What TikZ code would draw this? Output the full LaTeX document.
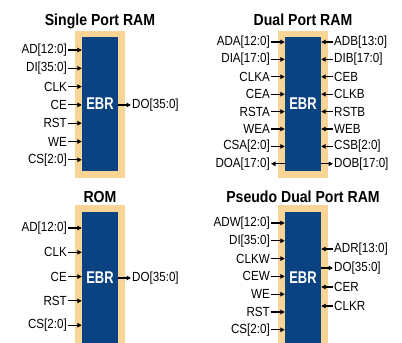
\documentclass[tikz,border=0pt]{standalone}
\usepackage{fontspec}
\setmainfont{Liberation Sans}[FakeStretch=0.88]
\newfontfamily\titlefont{Liberation Sans}[FakeStretch=0.88]
\newfontfamily\ebrfont{Liberation Sans}[FakeStretch=0.76]
\usepackage{tikz}
\usetikzlibrary{positioning,arrows.meta}
\definecolor{ebrtan}{HTML}{F8D496}
\definecolor{ebrblue}{HTML}{0B4282}
\tikzset{
    ebrframe/.style={fill=ebrtan, draw=none, minimum width=50pt, inner sep=0pt},
    ebrcore/.style={fill=ebrblue, draw=none, minimum width=36pt, inner sep=0pt, text=white, font=\ebrfont\bfseries\fontsize{17}{17}\selectfont},
    blocktitle/.style={inner sep=0pt, font=\titlefont\bfseries\fontsize{16}{16}\selectfont},
    pinlabel/.style={inner sep=1pt, font=\fontsize{13.2}{13.2}\selectfont},
    pinarrow/.style={-{Triangle[length=4.5pt,width=4.5pt]}, line width=1.1pt}
}

\begin{document}
\begin{tikzpicture}[x=1pt,y=-1pt]
    \useasboundingbox (0,0) rectangle (402,343);

    % Single Port RAM
    \node[ebrframe, minimum height=147pt] (spF) at (100,104.5) {};
    \node[ebrcore, minimum height=134pt] (spB) at (100,104) {EBR};
    \node[blocktitle, above=5pt of spF, anchor=base] (spT) {Single Port RAM};
    \foreach \lbl [count=\i from 0] in {AD[12:0],DI[35:0],CLK,CE,RST,WE,CS[2:0]} {
        \node[pinlabel, anchor=east] (spL\i) at (68,{50+18.3*\i}) {\lbl};
        \draw[pinarrow] (spL\i.east) -- (spL\i.east -| spB.west);
    }
    \node[pinlabel, anchor=west] (spDO) at (131,105) {DO[35:0]};
    \draw[pinarrow] (spDO.west -| spB.east) -- (spDO.west);

    % Dual Port RAM
    \node[ebrframe, minimum height=147pt] (dpF) at (303,104.5) {};
    \node[ebrcore, minimum height=134pt] (dpB) at (303,104) {EBR};
    \node[blocktitle, above=5pt of dpF, anchor=base] (dpT) {Dual Port RAM};
    \foreach \lbl [count=\i from 0] in {ADA[12:0],DIA[17:0],CLKA,CEA,RSTA,WEA,CSA[2:0]} {
        \node[pinlabel, anchor=east] (dpL\i) at (271,{42+17.4*\i}) {\lbl};
        \draw[pinarrow] (dpL\i.east) -- (dpL\i.east -| dpB.west);
    }
    \foreach \lbl [count=\i from 0] in {ADB[13:0],DIB[17:0],CEB,CLKB,RSTB,WEB,CSB[2:0]} {
        \node[pinlabel, anchor=west] (dpR\i) at (333,{42+17.4*\i}) {\lbl};
        \draw[pinarrow] (dpR\i.west) -- (dpR\i.west -| dpB.east);
    }
    \node[pinlabel, anchor=east] (dpDOA) at (271,163.8) {DOA[17:0]};
    \draw[pinarrow] (dpDOA.east -| dpB.west) -- (dpDOA.east);
    \node[pinlabel, anchor=west] (dpDOB) at (333,163.8) {DOB[17:0]};
    \draw[pinarrow] (dpDOB.west -| dpB.east) -- (dpDOB.west);

    % ROM
    \node[ebrframe, minimum height=138pt] (romF) at (100,274) {};
    \node[ebrcore, minimum height=131pt] (romB) at (100,277.5) {EBR};
    \node[blocktitle, above=2.5pt of romF, anchor=base] (romT) {ROM};
    \foreach \lbl [count=\i from 0] in {AD[12:0],CLK,CE,RST,CS[2:0]} {
        \node[pinlabel, anchor=east] (romL\i) at (68,{228+24.3*\i}) {\lbl};
        \draw[pinarrow] (romL\i.east) -- (romL\i.east -| romB.west);
    }
    \node[pinlabel, anchor=west] (romDO) at (131,278) {DO[35:0]};
    \draw[pinarrow] (romDO.west -| romB.east) -- (romDO.west);

    % Pseudo Dual Port RAM
    \node[ebrframe, minimum height=138pt] (pdF) at (303,274) {};
    \node[ebrcore, minimum height=131pt] (pdB) at (303,277.5) {EBR};
    \node[blocktitle, above=2.5pt of pdF, anchor=base] (pdT) {Pseudo Dual Port RAM};
    \foreach \lbl [count=\i from 0] in {ADW[12:0],DI[35:0],CLKW,CEW,WE,RST,CS[2:0]} {
        \node[pinlabel, anchor=east] (pdL\i) at (271,{223+17.8*\i}) {\lbl};
        \draw[pinarrow] (pdL\i.east) -- (pdL\i.east -| pdB.west);
    }
    \foreach \lbl/\y in {ADR[13:0]/249,CER/287,CLKR/306} {
        \node[pinlabel, anchor=west] (pdR\y) at (333,\y) {\lbl};
        \draw[pinarrow] (pdR\y.west) -- (pdR\y.west -| pdB.east);
    }
    \node[pinlabel, anchor=west] (pdDO) at (333,268) {DO[35:0]};
    \draw[pinarrow] (pdDO.west -| pdB.east) -- (pdDO.west);
\end{tikzpicture}
\end{document}
